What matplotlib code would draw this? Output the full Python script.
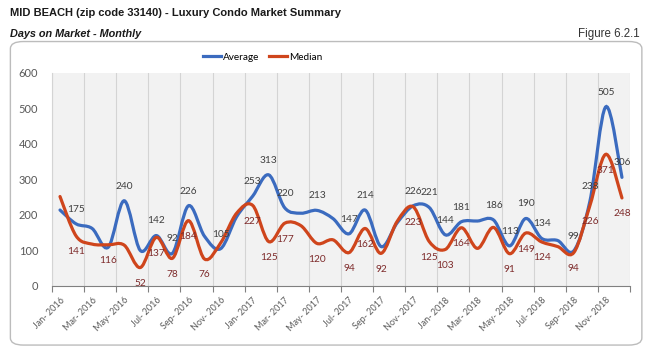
import matplotlib.pyplot as plt
from matplotlib.path import Path
from matplotlib.patches import PathPatch, FancyBboxPatch
from matplotlib.lines import Line2D

# monthly categories Jan-2016 .. Dec-2018
months = ['Jan', 'Feb', 'Mar', 'Apr', 'May', 'Jun',
          'Jul', 'Aug', 'Sep', 'Oct', 'Nov', 'Dec']
years = [2016, 2017, 2018]
categories = ['%s- %d' % (m, y) for y in years for m in months]

# days on market
average = [214, 175, 162, 109, 240, 100, 142, 92, 226, 140, 105, 195,
           253, 313, 220, 205, 213, 190, 147, 214, 111, 178, 226, 221,
           144, 181, 183, 186, 113, 190, 134, 128, 99, 238, 505, 306]
median = [252, 141, 118, 116, 115, 52, 137, 78, 184, 76, 121, 205,
          227, 125, 177, 170, 120, 130, 94, 162, 92, 182, 223, 125,
          103, 164, 106, 165, 91, 149, 124, 111, 94, 226, 371, 248]

# which points carry a data label
avg_labels = [1, 4, 6, 7, 8, 10, 12, 13, 14, 16, 18, 19, 22, 23, 24, 25,
              27, 28, 29, 30, 32, 33, 34, 35]
med_labels = [1, 3, 5, 6, 7, 8, 9, 12, 13, 14, 16, 18, 19, 20, 22, 23, 24,
              25, 28, 29, 30, 32, 33, 34, 35]

blue = '#3b6bbf'
red = '#cf451c'
lblfont = 'Lato'
hdrfont = ['Liberation Sans Narrow', 'Liberation Sans']


def smooth_path(ys):
    # excel-like smoothed line: cubic bezier through every point
    n = len(ys)
    pts = [(i, y) for i, y in enumerate(ys)]
    verts = [pts[0]]
    codes = [Path.MOVETO]
    for i in range(n - 1):
        p0 = pts[i - 1] if i > 0 else pts[i]
        p1 = pts[i]
        p2 = pts[i + 1]
        p3 = pts[i + 2] if i + 2 < n else pts[i + 1]
        c1 = (p1[0] + (p2[0] - p0[0]) / 6, p1[1] + (p2[1] - p0[1]) / 6)
        c2 = (p2[0] - (p3[0] - p1[0]) / 6, p2[1] - (p3[1] - p1[1]) / 6)
        verts += [c1, c2, p2]
        codes += [Path.CURVE4] * 3
    return Path(verts, codes)


fig = plt.figure(figsize=(6.49, 3.55), dpi=100)

# rounded frame
fig.patches.append(FancyBboxPatch((0.016, 0.028), 0.973, 0.855,
                                  boxstyle='round,pad=0,rounding_size=0.02',
                                  transform=fig.transFigure, facecolor='none',
                                  edgecolor='#bcbcbc', linewidth=1.0, zorder=-1))

fig.text(0.015, 0.962, 'MID BEACH (zip code 33140) - Luxury Condo Market Summary',
         family=hdrfont, stretch='condensed', weight='bold',
         fontsize=8, va='center', ha='left', color='#1a1a1a')
fig.text(0.015, 0.905, 'Days on Market - Monthly',
         family=hdrfont, stretch='condensed', weight='bold',
         style='italic', fontsize=7.8, va='center', ha='left', color='#1a1a1a')
fig.text(0.985, 0.905, 'Figure 6.2.1', family=hdrfont, stretch='condensed',
         fontsize=8.3, va='center', ha='right', color='#333333')

ax = fig.add_axes([0.0801, 0.1944, 0.8906, 0.6])
ax.set_facecolor('#f2f2f2')
ax.set_xlim(-0.5, len(categories) - 0.5)
ax.set_ylim(0, 600)

ax.add_patch(PathPatch(smooth_path(average), fill=False, edgecolor=blue,
                       linewidth=2.3, capstyle='round', zorder=3))
ax.add_patch(PathPatch(smooth_path(median), fill=False, edgecolor=red,
                       linewidth=2.3, capstyle='round', zorder=3))

for i in avg_labels:
    ax.annotate(str(average[i]), (i, average[i]), xytext=(0, 10.5),
                textcoords='offset points', ha='center', va='center',
                fontsize=7.3, color='#404040', family=lblfont, zorder=4)
for i in med_labels:
    ax.annotate(str(median[i]), (i, median[i]), xytext=(0, -11.5),
                textcoords='offset points', ha='center', va='center',
                fontsize=7.3, color='#7d2a2a', family=lblfont, zorder=4)

# gridlines / ticks on category boundaries, labels on every 2nd category
bounds = [b - 0.5 for b in range(0, len(categories) + 1, 2)]
ax.set_xticks(bounds)
ax.set_xticklabels([])
ax.set_xticks(list(range(0, len(categories), 2)), minor=True)
ax.set_xticklabels(categories[::2], minor=True, rotation=45, ha='right',
                   rotation_mode='anchor', fontsize=6.5, color='#595959',
                   family=lblfont)
ax.tick_params(axis='x', which='major', length=4, color='#808080', width=0.8)
ax.tick_params(axis='x', which='minor', length=0, pad=7)
ax.grid(axis='x', which='major', color='#d4d4d4', linewidth=0.8)
ax.set_axisbelow(True)

ax.set_yticks(range(0, 601, 100))
ax.tick_params(axis='y', length=0, pad=10, labelsize=8, labelcolor='#595959')
for t in ax.get_yticklabels():
    t.set_family(lblfont)

for s in ['top', 'right']:
    ax.spines[s].set_visible(False)
ax.spines['left'].set_color('#d4d4d4')
ax.spines['left'].set_linewidth(0.8)
ax.spines['bottom'].set_color('#808080')
ax.spines['bottom'].set_linewidth(0.8)

handles = [Line2D([], [], color=blue, linewidth=2.3),
           Line2D([], [], color=red, linewidth=2.3)]
fig.legend(handles, ['Average', 'Median'], loc='center', ncol=2,
           bbox_to_anchor=(0.405, 0.839), frameon=False, handlelength=1.8,
           handletextpad=0.2, columnspacing=1.0,
           prop={'family': lblfont, 'size': 7.2})

fig.savefig('out.png', dpi=100)
